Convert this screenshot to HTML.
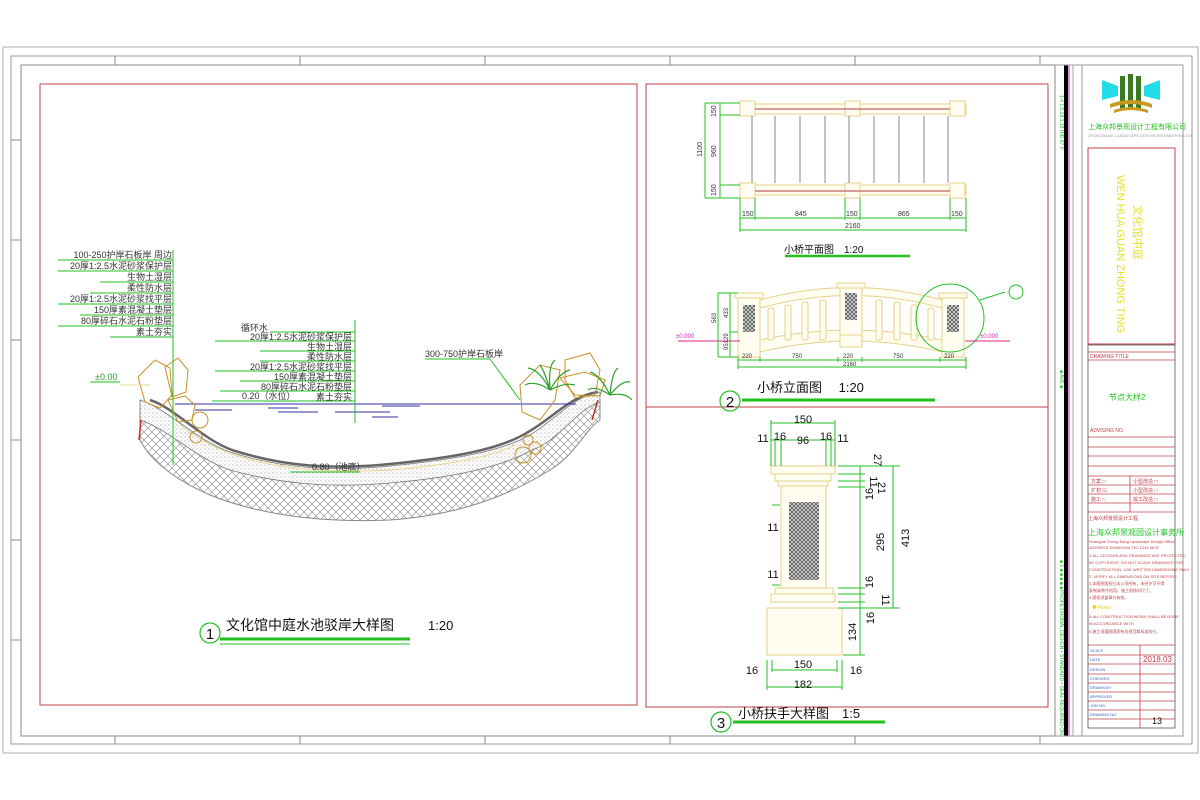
<!DOCTYPE html>
<html><head><meta charset="utf-8"><style>
html,body{margin:0;padding:0;background:#fff;}
svg{display:block;}
text{font-family:"Liberation Sans","Noto Sans CJK SC",sans-serif;}
</style></head><body>
<svg width="1200" height="800" viewBox="0 0 1200 800" xmlns="http://www.w3.org/2000/svg">
<defs>
<pattern id="hatch" width="8" height="8" patternUnits="userSpaceOnUse">
<rect width="8" height="8" fill="#fff"/>
<path d="M0 8L8 0M0 0L8 8" stroke="#999" stroke-width="0.7"/>
</pattern>
<pattern id="dots" width="4" height="4" patternUnits="userSpaceOnUse">
<rect width="4" height="4" fill="#fff"/>
<circle cx="1" cy="1" r="0.6" fill="#999"/><circle cx="3" cy="3" r="0.5" fill="#bbb"/>
</pattern>
<pattern id="stone" width="4" height="4" patternUnits="userSpaceOnUse">
<rect width="4" height="4" fill="#ddd"/>
<path d="M0 4L4 0M0 0L4 4" stroke="#555" stroke-width="0.8"/>
</pattern>
</defs>
<!-- outer frames -->
<rect x="3" y="47" width="1195" height="706" fill="none" stroke="#aaa" stroke-width="1"/>
<rect x="11" y="56" width="1181" height="688" fill="none" stroke="#999" stroke-width="1"/>
<rect x="21" y="65" width="1034" height="671" fill="none" stroke="#888" stroke-width="1"/>
<g stroke="#888" stroke-width="1">
<line x1="115" y1="56" x2="115" y2="65"/><line x1="300" y1="56" x2="300" y2="65"/><line x1="485" y1="56" x2="485" y2="65"/><line x1="670" y1="56" x2="670" y2="65"/><line x1="855" y1="56" x2="855" y2="65"/><line x1="1040" y1="56" x2="1040" y2="65"/>
<line x1="115" y1="736" x2="115" y2="744"/><line x1="300" y1="736" x2="300" y2="744"/><line x1="485" y1="736" x2="485" y2="744"/><line x1="670" y1="736" x2="670" y2="744"/><line x1="855" y1="736" x2="855" y2="744"/><line x1="1040" y1="736" x2="1040" y2="744"/>
<line x1="11" y1="140" x2="21" y2="140"/><line x1="11" y1="240" x2="21" y2="240"/><line x1="11" y1="340" x2="21" y2="340"/><line x1="11" y1="440" x2="21" y2="440"/><line x1="11" y1="540" x2="21" y2="540"/><line x1="11" y1="640" x2="21" y2="640"/>
</g>
<!-- red panels -->
<rect x="40" y="84" width="597" height="621" fill="none" stroke="#c0404a" stroke-width="1"/>
<rect x="646" y="84" width="402" height="623" fill="none" stroke="#c0404a" stroke-width="1"/>
<line x1="646" y1="407" x2="1048" y2="407" stroke="#c0404a"/>

<!-- POND -->
<path d="M140 410 C170 420 195 450 230 462 C280 478 330 482 390 476 C450 470 500 462 530 445 C555 430 575 405 600 400 L600 420 C585 430 575 455 550 470 C510 495 460 515 390 520 C320 523 260 515 210 495 C175 480 150 460 140 440 Z" fill="url(#hatch)" stroke="#888"/>
<path d="M140 400 C170 410 195 440 230 452 C280 468 330 472 390 466 C450 460 500 452 530 435 C555 420 575 395 600 392 L600 402 C578 408 560 440 532 450 C500 468 450 478 390 483 C330 488 280 484 230 470 C195 458 170 430 140 420 Z" fill="url(#dots)" stroke="#777" stroke-width="0.8"/>
<path d="M150 400 C175 408 200 438 232 450 C282 466 330 470 390 464 C450 458 500 450 528 432 C553 418 570 396 598 392" fill="none" stroke="#666" stroke-width="2.5"/>
<path d="M180 425 C205 445 230 455 260 462 C300 472 350 472 390 470 C440 466 490 458 515 445" fill="none" stroke="#e8d890" stroke-width="1"/>
<line x1="141" y1="420" x2="139" y2="440" stroke="#c03030" stroke-width="1.5"/>
<line x1="598" y1="400" x2="592" y2="420" stroke="#c03030" stroke-width="1.5"/>
<!-- water -->
<line x1="175" y1="404" x2="576" y2="404" stroke="#3030a0" stroke-width="1"/>
<g stroke="#3030a0" stroke-width="1">
<line x1="195" y1="410" x2="232" y2="410"/><line x1="268" y1="408" x2="298" y2="408"/><line x1="278" y1="412" x2="318" y2="412"/><line x1="335" y1="412" x2="390" y2="412"/><line x1="382" y1="406" x2="420" y2="406"/><line x1="372" y1="417" x2="398" y2="417"/>
</g>
<!-- rocks -->
<g fill="none" stroke="#c8902a" stroke-width="1">
<path d="M138 377 L155 360 L170 368 L172 395 L160 408 L145 402 Z"/>
<path d="M165 367 L178 358 L188 370 L186 392 L172 397 Z"/>
<path d="M168 400 L185 396 L195 405 L192 420 L178 422 Z"/>
<circle cx="200" cy="420" r="8"/><circle cx="196" cy="437" r="6"/>
<path d="M520 385 L540 365 L560 370 L555 400 L540 420 L522 412 Z"/>
<path d="M565 360 L590 353 L600 370 L595 395 L575 398 L565 380 Z"/>
<path d="M560 378 L585 372 L605 380 L600 396 L575 395 Z"/>
<circle cx="523" cy="455" r="8"/><circle cx="535" cy="448" r="6"/><circle cx="528" cy="440" r="5"/>
</g>
<g stroke="#2aa02a" stroke-width="1.2" fill="none">
<path d="M550 390 Q540 370 528 368 M550 390 Q548 365 555 360 M550 390 Q560 372 570 370 M550 390 Q535 380 525 385 M550 390 Q565 382 575 385 M550 390 Q545 372 540 365"/>
<path d="M610 395 Q600 375 590 372 M610 395 Q612 372 618 368 M610 395 Q622 380 630 382 M610 395 Q595 385 588 390 M610 395 Q625 392 632 400"/>
</g>
<!-- leaders left -->
<g fill="#333" font-size="9" text-anchor="end">
<text x="172" y="258">100-250护岸石板岸 周边</text>
<text x="172" y="269">20厚1:2.5水泥砂浆保护层</text>
<text x="172" y="280">生物土湿层</text>
<text x="172" y="291">柔性防水层</text>
<text x="172" y="302">20厚1:2.5水泥砂浆找平层</text>
<text x="172" y="313">150厚素混凝土垫层</text>
<text x="172" y="324">80厚碎石水泥石粉垫层</text>
<text x="172" y="335">素土夯实</text>
</g>
<g stroke="#22c022" stroke-width="1">
<line x1="173" y1="250" x2="173" y2="465"/>
<line x1="58" y1="260" x2="173" y2="260"/><line x1="58" y1="271" x2="173" y2="271"/><line x1="100" y1="282" x2="173" y2="282"/><line x1="90" y1="293" x2="173" y2="293"/><line x1="58" y1="304" x2="173" y2="304"/><line x1="80" y1="315" x2="173" y2="315"/><line x1="58" y1="326" x2="173" y2="326"/><line x1="110" y1="337" x2="173" y2="337"/>
<line x1="355" y1="320" x2="355" y2="423"/>
<line x1="270" y1="332" x2="355" y2="332"/><line x1="215" y1="341" x2="355" y2="341"/><line x1="260" y1="351" x2="355" y2="351"/><line x1="260" y1="361" x2="355" y2="361"/><line x1="215" y1="371" x2="355" y2="371"/><line x1="240" y1="381" x2="355" y2="381"/><line x1="220" y1="391" x2="355" y2="391"/><line x1="212" y1="401" x2="355" y2="401"/>
<line x1="90" y1="382" x2="120" y2="382"/>
<line x1="425" y1="359" x2="490" y2="359"/><line x1="490" y1="359" x2="520" y2="400"/>
<line x1="290" y1="472" x2="360" y2="472"/>
</g>
<g fill="#333" font-size="9" text-anchor="end">
<text x="268" y="331">循环水</text>
<text x="352" y="340">20厚1:2.5水泥砂浆保护层</text>
<text x="352" y="350">生物土湿层</text>
<text x="352" y="360">柔性防水层</text>
<text x="352" y="370">20厚1:2.5水泥砂浆找平层</text>
<text x="352" y="380">150厚素混凝土垫层</text>
<text x="352" y="390">80厚碎石水泥石粉垫层</text>
<text x="352" y="400">素土夯实</text>
</g>
<text x="242" y="399" font-size="9" fill="#333">0.20（水位）</text>
<text x="425" y="357" font-size="9" fill="#333">300-750护岸石板岸</text>
<text x="312" y="470" font-size="9" fill="#333">0.80（池底）</text>
<text x="95" y="380" font-size="9" fill="#2aa02a">±0.00</text>
<line x1="120" y1="385" x2="150" y2="385" stroke="#e8d890"/>
<!-- title 1 -->
<circle cx="210" cy="633" r="10" fill="none" stroke="#22c022" stroke-width="1.2"/>
<text x="210" y="639" font-size="15" text-anchor="middle" fill="#111">1</text>
<text x="226" y="630" font-size="14" fill="#111">文化馆中庭水池驳岸大样图</text>
<text x="428" y="630" font-size="13" fill="#111">1:20</text>
<line x1="220" y1="639" x2="410" y2="639" stroke="#22c022" stroke-width="3"/>
<line x1="220" y1="644" x2="410" y2="644" stroke="#22c022" stroke-width="1"/>

<!-- BRIDGE PLAN -->
<g fill="#fffdf0" stroke="#e8d08a" stroke-width="1">
<rect x="740" y="104" width="226" height="10"/>
<rect x="740" y="185" width="226" height="10"/>
<rect x="740" y="101" width="15" height="15"/><rect x="845" y="101" width="15" height="15"/><rect x="950" y="101" width="15" height="15"/>
<rect x="740" y="183" width="15" height="15"/><rect x="845" y="183" width="15" height="15"/><rect x="950" y="183" width="15" height="15"/>
</g>
<line x1="755" y1="109" x2="950" y2="109" stroke="#c06060" stroke-width="1.2"/>
<line x1="755" y1="191" x2="950" y2="191" stroke="#c06060" stroke-width="1.2"/>
<g stroke="#888" stroke-width="1">
<line x1="752" y1="116" x2="752" y2="183"/><line x1="775" y1="116" x2="775" y2="183"/><line x1="800" y1="116" x2="800" y2="183"/><line x1="825" y1="116" x2="825" y2="183"/><line x1="849" y1="116" x2="849" y2="183"/><line x1="874" y1="116" x2="874" y2="183"/><line x1="899" y1="116" x2="899" y2="183"/><line x1="924" y1="116" x2="924" y2="183"/><line x1="948" y1="116" x2="948" y2="183"/>
</g>
<g stroke="#22c022" stroke-width="1" fill="none">
<line x1="705" y1="103" x2="705" y2="198"/><line x1="720" y1="103" x2="720" y2="198"/>
<line x1="705" y1="103" x2="740" y2="103"/><line x1="705" y1="198" x2="740" y2="198"/><line x1="720" y1="115" x2="740" y2="115"/><line x1="720" y1="185" x2="740" y2="185"/>
<line x1="740" y1="218" x2="966" y2="218"/><line x1="740" y1="230" x2="966" y2="230"/>
<line x1="740" y1="198" x2="740" y2="232"/><line x1="755" y1="198" x2="755" y2="220"/><line x1="845" y1="198" x2="845" y2="220"/><line x1="860" y1="198" x2="860" y2="220"/><line x1="950" y1="198" x2="950" y2="220"/><line x1="966" y1="198" x2="966" y2="232"/>
</g>
<g fill="#333" font-size="7">
<text x="742" y="216">150</text><text x="795" y="216">845</text><text x="846" y="216">150</text><text x="898" y="216">865</text><text x="951" y="216">150</text><text x="845" y="228">2160</text>
<text transform="translate(716,117) rotate(-90)">150</text><text transform="translate(716,157) rotate(-90)">960</text><text transform="translate(716,196) rotate(-90)">150</text><text transform="translate(702,157) rotate(-90)">1100</text>
</g>
<text x="784" y="253" font-size="10" fill="#111">小桥平面图　1:20</text>
<line x1="785" y1="256" x2="910" y2="256" stroke="#22c022" stroke-width="2.5"/>

<!-- BRIDGE ELEVATION -->
<g fill="#fffdf0" stroke="#e8d08a" stroke-width="1">
<path d="M760 300 Q852 275 942 300 L942 308 Q852 283 760 308 Z"/>
<path d="M760 340 Q852 320 942 340 L942 352 Q852 330 760 352 Z"/>
<rect x="738" y="295" width="22" height="62"/><rect x="840" y="285" width="22" height="50"/><rect x="942" y="295" width="22" height="62"/>
<rect x="837" y="283" width="28" height="5"/><rect x="735" y="293" width="28" height="5"/><rect x="939" y="293" width="28" height="5"/>
<rect x="840" y="335" width="22" height="12"/>
<g>
<rect x="768" y="308" width="6" height="32" rx="2"/><rect x="785" y="305" width="6" height="35" rx="2"/><rect x="802" y="302" width="6" height="38" rx="2"/><rect x="820" y="300" width="6" height="40" rx="2"/>
<rect x="876" y="300" width="6" height="40" rx="2"/><rect x="894" y="302" width="6" height="38" rx="2"/><rect x="911" y="305" width="6" height="35" rx="2"/><rect x="928" y="308" width="6" height="32" rx="2"/>
</g>
</g>
<rect x="743" y="305" width="12" height="27" fill="url(#stone)"/><rect x="845" y="293" width="12" height="27" fill="url(#stone)"/><rect x="947" y="305" width="12" height="27" fill="url(#stone)"/>
<circle cx="950" cy="318" r="34" fill="none" stroke="#22c022" stroke-width="1"/>
<line x1="980" y1="300" x2="1005" y2="292" stroke="#22c022"/>
<circle cx="1016" cy="292" r="7" fill="none" stroke="#22c022"/>
<line x1="678" y1="341" x2="740" y2="341" stroke="#e0208a"/>
<line x1="965" y1="341" x2="1010" y2="341" stroke="#e0208a"/>
<text x="676" y="338" font-size="6" fill="#e020c0">±0.000</text>
<text x="980" y="338" font-size="6" fill="#e020c0">±0.000</text>
<g stroke="#22c022" stroke-width="1">
<line x1="718" y1="293" x2="718" y2="357"/><line x1="730" y1="293" x2="730" y2="357"/>
<line x1="718" y1="293" x2="738" y2="293"/><line x1="730" y1="332" x2="738" y2="332"/><line x1="718" y1="357" x2="738" y2="357"/>
<line x1="738" y1="360" x2="966" y2="360"/><line x1="738" y1="367" x2="966" y2="367"/>
<line x1="738" y1="357" x2="738" y2="369"/><line x1="760" y1="357" x2="760" y2="362"/><line x1="838" y1="357" x2="838" y2="362"/><line x1="862" y1="357" x2="862" y2="362"/><line x1="940" y1="357" x2="940" y2="362"/><line x1="966" y1="357" x2="966" y2="369"/>
</g>
<g fill="#333" font-size="6">
<text x="742" y="358">220</text><text x="792" y="358">750</text><text x="843" y="358">220</text><text x="893" y="358">750</text><text x="944" y="358">220</text><text x="843" y="366">2160</text>
<text transform="translate(716,323) rotate(-90)">563</text><text transform="translate(728,318) rotate(-90)">433</text><text transform="translate(728,350) rotate(-90)">95129</text>
</g>
<circle cx="730" cy="401" r="10" fill="none" stroke="#22c022" stroke-width="1.2"/>
<text x="730" y="407" font-size="15" text-anchor="middle" fill="#111">2</text>
<text x="757" y="392" font-size="13" fill="#111">小桥立面图　 1:20</text>
<line x1="742" y1="400" x2="935" y2="400" stroke="#22c022" stroke-width="3"/>

<!-- DETAIL 3 -->
<g fill="#fffdf0" stroke="#e8d08a" stroke-width="1">
<rect x="771" y="466" width="64" height="8"/><rect x="775" y="474" width="56" height="7"/><rect x="778" y="481" width="50" height="5"/>
<rect x="781" y="486" width="45" height="102"/>
<rect x="775" y="588" width="58" height="6"/><rect x="771" y="594" width="64" height="8"/>
<rect x="767" y="608" width="75" height="47"/>
</g>
<rect x="789" y="502" width="30" height="78" fill="url(#stone)"/>
<g stroke="#22c022" stroke-width="1">
<line x1="771" y1="423" x2="835" y2="423"/><line x1="771" y1="440" x2="835" y2="440"/>
<line x1="771" y1="420" x2="771" y2="466"/><line x1="835" y1="420" x2="835" y2="466"/><line x1="775" y1="438" x2="775" y2="466"/><line x1="781" y1="438" x2="781" y2="466"/><line x1="826" y1="438" x2="826" y2="466"/><line x1="831" y1="438" x2="831" y2="466"/>
<line x1="860" y1="466" x2="860" y2="655"/><line x1="893" y1="466" x2="893" y2="608"/>
<line x1="838" y1="466" x2="900" y2="466"/><line x1="838" y1="474" x2="865" y2="474"/><line x1="838" y1="481" x2="865" y2="481"/><line x1="838" y1="487" x2="865" y2="487"/><line x1="838" y1="588" x2="865" y2="588"/><line x1="838" y1="594" x2="865" y2="594"/><line x1="838" y1="602" x2="865" y2="602"/><line x1="838" y1="608" x2="900" y2="608"/><line x1="843" y1="655" x2="865" y2="655"/>
<line x1="767" y1="660" x2="767" y2="690"/><line x1="842" y1="660" x2="842" y2="690"/><line x1="772" y1="660" x2="772" y2="672"/><line x1="837" y1="660" x2="837" y2="672"/>
<line x1="772" y1="670" x2="837" y2="670"/><line x1="767" y1="687" x2="842" y2="687"/>
<line x1="772" y1="505" x2="780" y2="505"/><line x1="772" y1="585" x2="780" y2="585"/>
</g>
<g fill="#111" font-size="11" text-anchor="middle">
<text x="803" y="423">150</text><text x="803" y="444">96</text>
<text x="763" y="442">11</text><text x="780" y="440">16</text><text x="826" y="440">16</text><text x="843" y="442">11</text>
<text x="773" y="531">11</text><text x="773" y="578">11</text>
<text x="803" y="668">150</text><text x="803" y="688">182</text>
<text x="752" y="674">16</text><text x="856" y="674">16</text>
<text transform="translate(874,460) rotate(90)">27</text>
<text transform="translate(870,482) rotate(90)">11</text>
<text transform="translate(878,488) rotate(90)">21</text>
<text transform="translate(873,494) rotate(-90)">16</text>
<text transform="translate(884,542) rotate(-90)">295</text>
<text transform="translate(909,538) rotate(-90)">413</text>
<text transform="translate(873,582) rotate(-90)">16</text>
<text transform="translate(882,600) rotate(90)">11</text>
<text transform="translate(874,618) rotate(-90)">16</text>
<text transform="translate(856,632) rotate(-90)">134</text>
</g>
<circle cx="721" cy="722" r="10" fill="none" stroke="#22c022" stroke-width="1.2"/>
<text x="721" y="728" font-size="15" text-anchor="middle" fill="#111">3</text>
<text x="738" y="718" font-size="13" fill="#111">小桥扶手大样图　1:5</text>
<line x1="733" y1="722" x2="885" y2="722" stroke="#22c022" stroke-width="3"/>

<!-- TITLE BLOCK -->
<rect x="1064" y="65" width="4" height="671" fill="#000"/>
<line x1="1069" y1="65" x2="1069" y2="736" stroke="#d020d0" stroke-width="1"/>
<rect x="1082" y="65" width="101" height="671" fill="none" stroke="#999"/>
<line x1="1055" y1="65" x2="1183" y2="65" stroke="#999"/>
<line x1="1055" y1="736" x2="1183" y2="736" stroke="#999"/>
<line x1="1073" y1="65" x2="1073" y2="736" stroke="#aaa"/>
<g fill="#22c022" font-size="5">
<text transform="translate(1060,95) rotate(90)">1:4 1:5 18 1:18 HID 87 0</text>
<text transform="translate(1060,370) rotate(90)">■ AVE ■</text>
<text transform="translate(1060,560) rotate(90)">■ 1 ■ ■ ■ ■ ■</text>
<text transform="translate(1060,590) rotate(90)">PROFESSIONAL DESIGN • STANDARD • SEAL REQUIRED ON</text>
</g>
<!-- logo -->
<g>
<path d="M1102 80 L1118 86 L1118 96 L1102 100 Z" fill="#22dde8"/>
<path d="M1160 80 L1144 86 L1144 96 L1160 100 Z" fill="#22dde8"/>
<rect x="1120" y="76" width="5" height="34" fill="#3a7a20"/><rect x="1128" y="74" width="5" height="36" fill="#3a7a20"/><rect x="1136" y="76" width="5" height="34" fill="#3a7a20"/>
<path d="M1110 104 Q1131 96 1152 104 L1152 108 Q1131 100 1110 108 Z" fill="#c89a20"/>
<path d="M1114 110 Q1131 104 1148 110 L1148 113 Q1131 107 1114 113 Z" fill="#c89a20"/>
</g>
<text x="1088" y="129" font-size="7" fill="#22c022">上海众邦景观设计工程有限公司</text>
<text x="1088" y="137" font-size="4" fill="#999">ZHONGBANG LANDSCAPE DESIGN ENGINEERING CO.</text>
<rect x="1088" y="148" width="87" height="196" fill="none" stroke="#c0404a"/>
<text transform="translate(1117,175) rotate(90)" font-size="11" fill="#e8e020">WEN HUA GUAN ZHONG TING</text>
<text transform="translate(1134,205) rotate(90)" font-size="11" fill="#e8e020">文化馆中庭</text>
<g stroke="#c0404a" stroke-width="0.8">
<line x1="1088" y1="352" x2="1175" y2="352"/><line x1="1088" y1="360" x2="1175" y2="360"/>
<line x1="1088" y1="437" x2="1175" y2="437"/><line x1="1088" y1="447" x2="1175" y2="447"/><line x1="1088" y1="456" x2="1175" y2="456"/><line x1="1088" y1="466" x2="1175" y2="466"/><line x1="1088" y1="476" x2="1175" y2="476"/><line x1="1088" y1="485" x2="1175" y2="485"/><line x1="1088" y1="494" x2="1175" y2="494"/><line x1="1088" y1="503" x2="1175" y2="503"/><line x1="1088" y1="512" x2="1175" y2="512"/>
<line x1="1130" y1="476" x2="1130" y2="512"/>
<line x1="1088" y1="645" x2="1175" y2="645"/>
<line x1="1088" y1="655" x2="1175" y2="655"/><line x1="1088" y1="664" x2="1175" y2="664"/><line x1="1088" y1="674" x2="1175" y2="674"/><line x1="1088" y1="683" x2="1175" y2="683"/><line x1="1088" y1="692" x2="1175" y2="692"/><line x1="1088" y1="701" x2="1175" y2="701"/><line x1="1088" y1="710" x2="1175" y2="710"/><line x1="1088" y1="719" x2="1175" y2="719"/>
<line x1="1140" y1="645" x2="1140" y2="728"/>
</g>
<rect x="1088" y="345" width="87" height="383" fill="none" stroke="#555" stroke-width="0.8"/>
<text x="1090" y="358" font-size="5" fill="#c0404a">DRAWING TITLE</text>
<text x="1109" y="400" font-size="8" fill="#22c022">节点大样2</text>
<text x="1090" y="432" font-size="5" fill="#c0404a">ADVISING NO.</text>
<g font-size="5" fill="#c0404a">
<text x="1091" y="483">方案 □</text><text x="1133" y="483">小型改造 □</text>
<text x="1091" y="492">扩初 ☑</text><text x="1133" y="492">小型改造 □</text>
<text x="1091" y="501">施工 □</text><text x="1133" y="501">竣工改造 □</text>
<text x="1088" y="520">上海众邦景观设计工程</text>
</g>
<text x="1088" y="535" font-size="8" fill="#22c022">上海众邦景观园设计事务所</text>
<g font-size="4" fill="#c0404a">
<text x="1089" y="543">Shanghai Zhong Bang Landscape Design Office</text>
<text x="1089" y="549">ADDRESS SHANGHAI TEL 1234 5678</text>
<text x="1089" y="557">1.ALL DESIGNS AND DRAWINGS ARE PROTECTED</text>
<text x="1089" y="564">BY COPYRIGHT. DO NOT SCALE DRAWINGS FOR</text>
<text x="1089" y="571">CONSTRUCTION, USE WRITTEN DIMENSIONS ONLY.</text>
<text x="1089" y="578">2. VERIFY ALL DIMENSIONS ON SITE BEFORE.</text>
<text x="1089" y="585">3.本图纸版权归本公司所有，未经许可不得</text>
<text x="1089" y="592">复制或转作他用。施工前核对尺寸。</text>
<text x="1089" y="599">4.图纸须盖章方有效。</text>
<text x="1089" y="618">5.ALL CONSTRUCTION WORK SHALL BE DONE</text>
<text x="1089" y="625">IN ACCORDANCE WITH</text>
<text x="1089" y="633">6.施工须遵照国家有关规范和标准执行。</text>
</g>
<text x="1092" y="609" font-size="5" fill="#e8d020">◆ Notes</text>
<g font-size="4" fill="#3060c0">
<text x="1090" y="652">SCALE</text><text x="1090" y="661">DATE</text><text x="1090" y="671">DESIGN</text><text x="1090" y="680">CHECKED</text><text x="1090" y="689">DRAWN BY</text><text x="1090" y="698">APPROVED</text><text x="1090" y="707">JOB NO.</text><text x="1090" y="716">DRAWING NO.</text>
</g>
<text x="1143" y="662" font-size="8" fill="#c0404a">2018.03</text>
<text x="1152" y="724" font-size="9" fill="#111">13</text>
</svg>
</body></html>
